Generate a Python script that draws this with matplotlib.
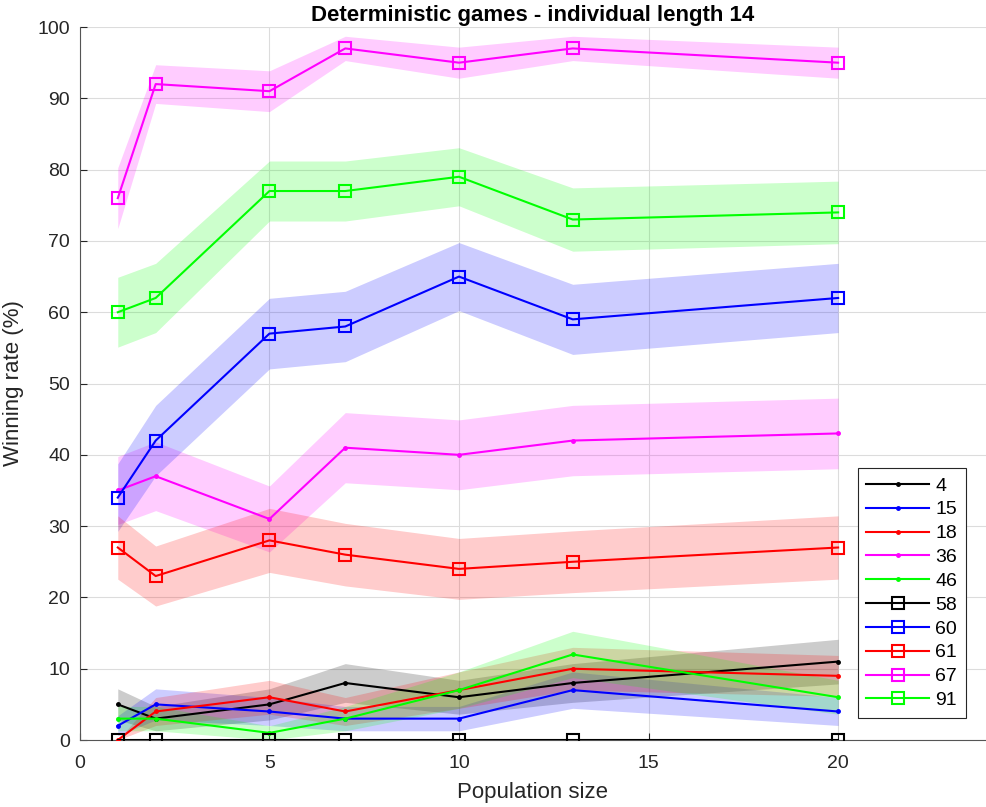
import numpy as np
import matplotlib.pyplot as plt

plt.rcParams['font.family'] = ['Liberation Sans', 'DejaVu Sans']

# population sizes
pop = [1, 2, 5, 7, 10, 13, 20]

# winning rate (%) per game id
labels = ['4', '15', '18', '36', '46', '58', '60', '61', '67', '91']
w4 = [5, 3, 5, 8, 6, 8, 11]
w15 = [2, 5, 4, 3, 3, 7, 4]
w18 = [0, 4, 6, 4, 7, 10, 9]
w36 = [35, 37, 31, 41, 40, 42, 43]
w46 = [3, 3, 1, 3, 7, 12, 6]
w58 = [0, 0, 0, 0, 0, 0, 0]
w60 = [34, 42, 57, 58, 65, 59, 62]
w61 = [27, 23, 28, 26, 24, 25, 27]
w67 = [76, 92, 91, 97, 95, 97, 95]
w91 = [60, 62, 77, 77, 79, 73, 74]
n_games = 100

series = [w4, w15, w18, w36, w46, w58, w60, w61, w67, w91]
colors = ['#000000', '#0000ff', '#ff0000', '#ff00ff', '#00ff00'] * 2
markers = ['.'] * 5 + ['s'] * 5

fig = plt.figure(figsize=(9.86, 8.07), dpi=100)
ax = fig.add_axes([0.081, 0.083, 0.919, 0.8835])

x = np.array(pop)
for vals, c in zip(series, colors):
    p = np.array(vals) / 100.0
    err = 100 * np.sqrt(p * (1 - p) / n_games)
    ax.fill_between(x, np.array(vals) - err, np.array(vals) + err,
                    color=c, alpha=0.2, linewidth=0, zorder=1)

for vals, c, m, lab in zip(series, colors, markers, labels):
    if m == 's':
        ax.plot(x, vals, color=c, marker='s', markersize=8, markerfacecolor='none',
                markeredgewidth=1.5, linewidth=1.5, label=lab, zorder=3)
    else:
        ax.plot(x, vals, color=c, marker='.', markersize=5, linewidth=1.5,
                label=lab, zorder=3)

ax.set_xlim(0, 23.9)
ax.set_ylim(0, 100)
ax.set_xticks([0, 5, 10, 15, 20])
ax.set_yticks(range(0, 101, 10))
ax.grid(True, color='#dcdcdc', linewidth=0.8, zorder=0)
ax.set_axisbelow(True)
for s in ['top', 'right']:
    ax.spines[s].set_visible(False)
for s in ['left', 'bottom']:
    ax.spines[s].set_color('#555555')
ax.tick_params(direction='in', length=5, labelsize=14, pad=7,
               color='#262626', labelcolor='#262626')
ax.tick_params(axis='x', pad=11)

ax.set_xlabel('Population size', fontsize=16, color='#262626', labelpad=7)
ax.set_ylabel('Winning rate (%)', fontsize=16, color='#262626', labelpad=10)
ax.set_title('Deterministic games - individual length 14', fontsize=16,
             fontweight='bold', pad=4)

leg = ax.legend(loc='lower right', bbox_to_anchor=(0.978, 0.031), borderaxespad=0,
                fontsize=14, handlelength=3.2, handletextpad=0.35, labelspacing=0.32,
                fancybox=False, framealpha=1, edgecolor='#262626', borderpad=0.45)
leg.get_frame().set_linewidth(0.8)

plt.savefig('out.png', dpi=100)
